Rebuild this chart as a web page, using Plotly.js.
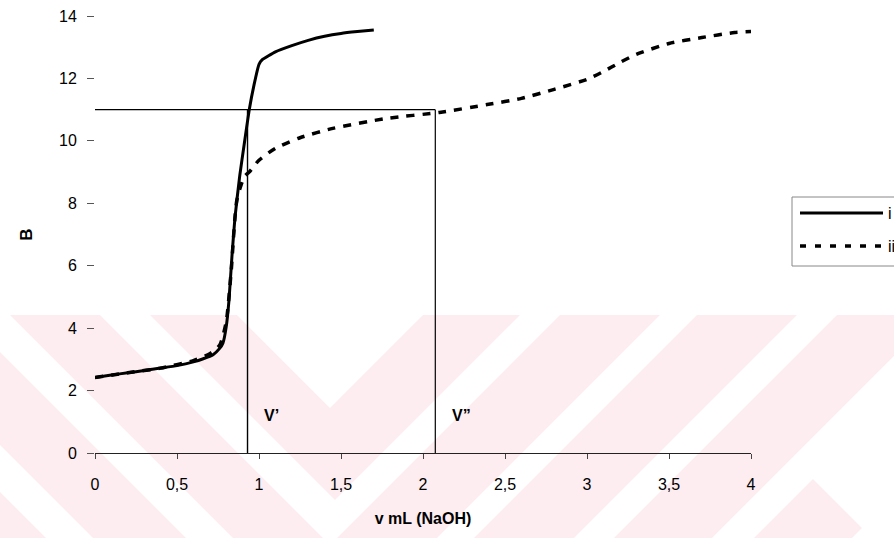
<!DOCTYPE html>
<html>
<head>
<meta charset="utf-8">
<script src="https://cdn.plot.ly/plotly-3.0.1.min.js"></script>
<style>html,body{margin:0;padding:0;background:#fff;}#chart{width:894px;height:538px;}</style>
</head>
<body>
<div id="chart"></div>
<script>
// ---- data ----
const curveI_x = [0, 0.1, 0.2, 0.3, 0.4, 0.5, 0.6, 0.66, 0.72, 0.76, 0.78, 0.8, 0.817, 0.835, 0.853, 0.883, 0.91, 0.94, 0.97, 1.0, 1.02, 1.1, 1.2, 1.3, 1.4, 1.5, 1.6, 1.7];
const curveI_y = [2.42, 2.5, 2.57, 2.64, 2.72, 2.8, 2.92, 3.02, 3.15, 3.35, 3.52, 4.04, 4.9, 6.3, 7.52, 8.9, 9.9, 10.98, 11.8, 12.45, 12.6, 12.85, 13.05, 13.22, 13.35, 13.44, 13.5, 13.55];
const curveII_x = [0, 0.2, 0.4, 0.6, 0.7, 0.76, 0.8, 0.83, 0.865, 0.91, 0.94, 1.0, 1.1, 1.25, 1.45, 1.78, 2.1, 2.4, 2.6, 2.8, 3.0, 3.1, 3.2, 3.3, 3.5, 3.7, 3.9, 4.0];
const curveII_y = [2.42, 2.57, 2.72, 2.96, 3.18, 3.45, 4.2, 5.8, 8.1, 8.85, 9.0, 9.38, 9.76, 10.1, 10.4, 10.72, 10.91, 11.17, 11.36, 11.65, 11.97, 12.22, 12.51, 12.77, 13.12, 13.31, 13.47, 13.5];
const seriesNames = ['i', 'ii'];
const levelB = 11;
const equivVolumes = [0.93, 2.075];
const equivLabels = ['V\u2019', 'V\u201D'];
const xTicks = [0, 0.5, 1, 1.5, 2, 2.5, 3, 3.5, 4];
const yTicks = [0, 2, 4, 6, 8, 10, 12, 14];

// ---- layout geometry ----
const W = 894, H = 538, ML = 95, MR = 143, MT = 16, MB = 85;
const PW = W - ML - MR, PH = H - MT - MB;
function P(X, Y) { return [(X - ML) / PW, 1 - (Y - MT) / PH]; }
function pathFrom(pts) {
  return pts.map((p, i) => { const q = P(p[0], p[1]); return (i ? 'L' : 'M') + q[0].toFixed(5) + ',' + q[1].toFixed(5); }).join(' ') + ' Z';
}

// background watermark (nested chevrons): [inner apex, left outer, right outer]
const wmColor = '#fdedf0';
const wmCx = 330, wmTop = 315;
const wmBands = [[408, 495, 505], [545, 635, 645], [682, 775, 782], [822, 915, 920], [962, 1055, 1060]];
const shapes = [];
wmBands.forEach(b => {
  const a1 = b[0], aL = b[1], aR = b[2];
  const ay = (aL + aR) / 2, ax = wmCx + (aR - aL) / 2;
  shapes.push({type: 'path', xref: 'paper', yref: 'paper', layer: 'below', line: {width: 0}, fillcolor: wmColor,
    path: pathFrom([[wmCx - (aL - wmTop), wmTop], [wmCx - (a1 - wmTop), wmTop], [wmCx, a1], [wmCx + (a1 - wmTop), wmTop], [wmCx + (aR - wmTop), wmTop], [ax, ay]])});
});
shapes.push({type: 'path', xref: 'paper', yref: 'paper', layer: 'below', line: {width: 0}, fillcolor: '#ffffff',
  path: pathFrom([[797, 463], [900, 360], [900, 545], [879, 545]])});

// custom legend
const lg = P(792, 197), lg2 = P(905, 266);
shapes.push({type: 'rect', xref: 'paper', yref: 'paper', x0: lg[0], y0: lg[1], x1: lg2[0], y1: lg2[1], line: {color: '#888', width: 1}, fillcolor: 'rgba(0,0,0,0)'});
const l1a = P(800, 213), l1b = P(883, 213), l2a = P(800, 246), l2b = P(882, 246);
shapes.push({type: 'line', xref: 'paper', yref: 'paper', x0: l1a[0], y0: l1a[1], x1: l1b[0], y1: l1b[1], line: {color: '#000', width: 3}});
shapes.push({type: 'line', xref: 'paper', yref: 'paper', x0: l2a[0], y0: l2a[1], x1: l2b[0], y1: l2b[1], line: {color: '#000', width: 3.5, dash: '6px,9px'}});

const font = 'Liberation Sans, Arial, sans-serif';
const annotations = [
  {xref: 'paper', yref: 'paper', x: P(886, 0)[0], y: l1a[1], text: seriesNames[0], showarrow: false, xanchor: 'left', yanchor: 'middle', font: {family: font, size: 16, color: '#000'}},
  {xref: 'paper', yref: 'paper', x: P(886, 0)[0], y: l2a[1], text: seriesNames[1], showarrow: false, xanchor: 'left', yanchor: 'middle', font: {family: font, size: 16, color: '#000'}}
];
equivVolumes.forEach((v, i) => {
  annotations.push({x: v + 0.09, y: 1.2, xref: 'x', yref: 'y', text: '<b>' + equivLabels[i] + '</b>', showarrow: false, xanchor: 'left', yanchor: 'middle', font: {family: font, size: 16, color: '#000'}});
});

// reference lines as traces (through axis scales)
const refX = [0, equivVolumes[1]];
const traces = [
  {x: refX, y: [levelB, levelB], mode: 'lines', line: {color: '#000', width: 1.2}, showlegend: false, hoverinfo: 'skip'},
  {x: [equivVolumes[0], equivVolumes[0]], y: [0, levelB], mode: 'lines', line: {color: '#000', width: 1.4}, showlegend: false, hoverinfo: 'skip'},
  {x: [equivVolumes[1], equivVolumes[1]], y: [0, levelB], mode: 'lines', line: {color: '#000', width: 1.2}, showlegend: false, hoverinfo: 'skip'},
  {x: curveII_x, y: curveII_y, name: seriesNames[1], mode: 'lines', line: {color: '#000', width: 3.5, dash: '8px,8px', shape: 'spline', smoothing: 0.6}, showlegend: false},
  {x: curveI_x, y: curveI_y, name: seriesNames[0], mode: 'lines', line: {color: '#000', width: 3, shape: 'spline', smoothing: 0.4}, showlegend: false}
];

const layout = {
  width: W, height: H,
  margin: {l: ML, r: MR, t: MT, b: MB},
  paper_bgcolor: '#fff', plot_bgcolor: 'rgba(0,0,0,0)',
  separators: ',.',
  showlegend: false,
  font: {family: font, color: '#000', size: 16},
  xaxis: {range: [0, 4], tickvals: xTicks, showgrid: false, zeroline: false, showline: true, linecolor: '#222', linewidth: 1,
    ticks: 'outside', ticklen: 5, tickcolor: '#444', tickwidth: 1, ticklabelstandoff: 12,
    tickfont: {family: font, size: 16, color: '#000'},
    title: {text: '<b>v mL (NaOH)</b>', font: {family: font, size: 16, color: '#000'}, standoff: 20}},
  yaxis: {range: [0, 14], tickvals: yTicks, showgrid: false, zeroline: false, showline: false,
    ticks: 'outside', ticklen: 7, tickcolor: '#555', tickwidth: 1, ticklabelstandoff: 7,
    tickfont: {family: font, size: 16, color: '#000'},
    title: {text: '<b>B</b>', font: {family: font, size: 17, color: '#000'}, standoff: 22}},
  shapes: shapes,
  annotations: annotations
};

Plotly.newPlot('chart', traces, layout, {staticPlot: true, displayModeBar: false});
</script>
</body>
</html>
